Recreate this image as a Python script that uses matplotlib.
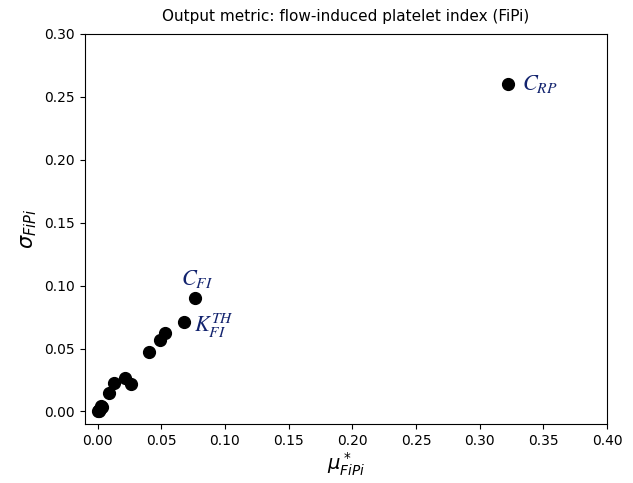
import numpy as np
import matplotlib.pyplot as plt

# mu* and sigma of FiPi for each input parameter
mu_star = [0.322, 0.0764, 0.068, 0.0526, 0.0487, 0.040, 0.0215, 0.0265,
           0.0132, 0.0088, 0.0035, 0.0010, 0.0020, 0.0005, 0.0030, 0.0015]
sigma = [0.260, 0.0900, 0.0710, 0.0620, 0.0570, 0.0470, 0.0265, 0.0220,
         0.0230, 0.0145, 0.0035, 0.0000, 0.0020, 0.0005, 0.0045, 0.0010]

labels = [r'$C_{RP}$', r'$C_{FI}$', r'$K_{FI}^{TH}$']
label_idx = [0, 1, 2]
label_offset = [(0.011, 0.0), (-0.011, 0.0155), (0.0075, -0.003)]
label_color = '#12236e'

fig = plt.figure(figsize=(6.33, 4.83), dpi=100)
ax = fig.add_axes([0.134, 0.122, 0.825, 0.808])

ax.plot(mu_star, sigma, 'o', color='black', ms=8.5, ls='none')

for lab, ii, off in zip(labels, label_idx, label_offset):
    ax.text(mu_star[ii] + off[0], sigma[ii] + off[1], lab, color=label_color,
            fontsize=16, math_fontfamily='stix', va='center', ha='left')

ax.set_xlim(-0.01, 0.40)
ax.set_ylim(-0.01, 0.30)
ax.set_xticks(np.arange(0, 0.41, 0.05))
ax.set_yticks(np.arange(0, 0.31, 0.05))
ax.set_xlabel(r'$\mu^*_{FiPi}$', fontsize=14, labelpad=2)
ax.set_ylabel(r'$\sigma_{FiPi}$', fontsize=15)
ax.set_title('Output metric: flow-induced platelet index (FiPi)', fontsize=11, pad=9)

plt.savefig('out.png')
